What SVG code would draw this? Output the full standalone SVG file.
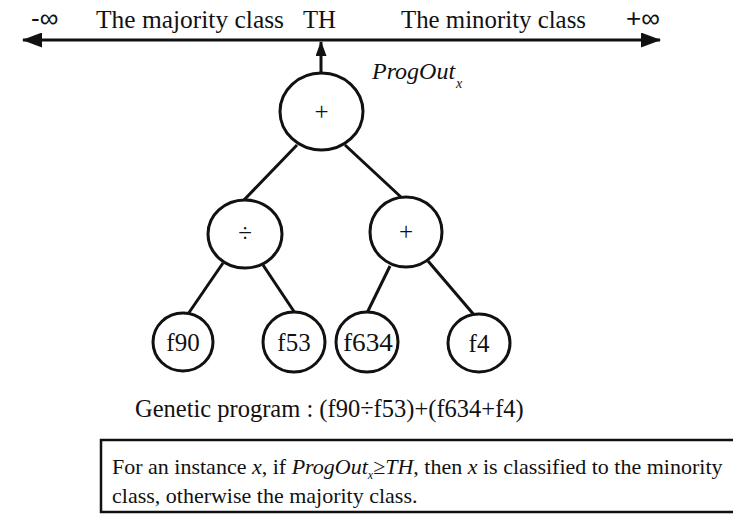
<svg xmlns="http://www.w3.org/2000/svg" width="733" height="516" viewBox="0 0 733 516">
  <style>
    .serif { font-family: "Liberation Serif", "Times New Roman", serif; fill: #111; }
    .sans { font-family: "Liberation Sans", Arial, sans-serif; fill: #111; }
    .node ellipse { fill: #fff; stroke: #111; stroke-width: 3; }
    .node text { font-family: "Liberation Serif", "Times New Roman", serif; font-size: 25px; text-anchor: middle; fill: #111; }
    .edge { stroke: #111; stroke-width: 3; fill: none; }
  </style>
  <defs>
    <marker id="head" viewBox="0 0 20 15" refX="19" refY="7.5" markerWidth="20" markerHeight="15" markerUnits="userSpaceOnUse" orient="auto-start-reverse">
      <path d="M0,0 L20,7.5 L0,15 Z" fill="#111"/>
    </marker>
    <marker id="headUp" viewBox="0 0 15 11" refX="14" refY="5.5" markerWidth="15" markerHeight="11" markerUnits="userSpaceOnUse" orient="auto">
      <path d="M0,0 L15,5.5 L0,11 Z" fill="#111"/>
    </marker>
  </defs>

  <rect width="733" height="516" fill="#fff"/>

  <!-- number line with class regions -->
  <g id="axis">
    <line class="edge" x1="23" y1="40" x2="660" y2="40" marker-start="url(#head)" marker-end="url(#head)" stroke-width="2.5"/>
    <text class="sans" x="31" y="27" font-size="26">-∞</text>
    <text class="serif" x="96" y="28" font-size="25" textLength="188" lengthAdjust="spacingAndGlyphs">The majority class</text>
    <text class="serif" x="303" y="28" font-size="25" textLength="33" lengthAdjust="spacingAndGlyphs">TH</text>
    <text class="serif" x="401" y="28" font-size="25" textLength="185" lengthAdjust="spacingAndGlyphs">The minority class</text>
    <text class="sans" x="626" y="27" font-size="26">+∞</text>
  </g>

  <!-- connectors -->
  <g id="connectors">
    <line class="edge" x1="321" y1="73" x2="321" y2="42" marker-end="url(#headUp)"/>
    <line class="edge" x1="297" y1="145" x2="243" y2="201"/>
    <line class="edge" x1="345" y1="145" x2="402" y2="198"/>
    <line class="edge" x1="223" y1="263" x2="188" y2="314"/>
    <line class="edge" x1="263" y1="265" x2="295" y2="313"/>
    <line class="edge" x1="390" y1="266" x2="367" y2="313"/>
    <line class="edge" x1="428" y1="261" x2="475" y2="316"/>
  </g>

  <text class="serif" x="372" y="79" font-size="24" font-style="italic">ProgOut</text>
  <text class="serif" x="456" y="88" font-size="14" font-style="italic">x</text>

  <g id="root" class="node">
    <ellipse cx="321.5" cy="111.5" rx="41.5" ry="38.5"/>
    <text x="321.5" y="120">+</text>
  </g>
  <g id="div" class="node">
    <ellipse cx="245" cy="234" rx="37" ry="34"/>
    <text x="245" y="242">÷</text>
  </g>
  <g id="plus" class="node">
    <ellipse cx="406" cy="232" rx="36" ry="35"/>
    <text x="406" y="240">+</text>
  </g>
  <g id="f90" class="node">
    <ellipse cx="183" cy="342" rx="30" ry="29"/>
    <text x="183" y="351">f90</text>
  </g>
  <g id="f53" class="node">
    <ellipse cx="294" cy="342" rx="31" ry="30"/>
    <text x="294" y="351">f53</text>
  </g>
  <g id="f634" class="node">
    <ellipse cx="367" cy="342" rx="31" ry="30"/>
    <text x="368" y="351" textLength="50" lengthAdjust="spacingAndGlyphs">f634</text>
  </g>
  <g id="f4" class="node">
    <ellipse cx="479" cy="343" rx="31" ry="29"/>
    <text x="479" y="352">f4</text>
  </g>

  <text class="serif" x="135" y="417" font-size="24.5">Genetic program : (f90÷f53)+(f634+f4)</text>

  <!-- classification rule box -->
  <g id="rule">
    <rect x="101" y="440" width="660" height="72" fill="none" stroke="#111" stroke-width="2.5"/>
    <text class="serif" x="112" y="474" font-size="22">For an instance <tspan font-style="italic">x</tspan>, if <tspan font-style="italic">ProgOut</tspan><tspan font-style="italic" font-size="12" dy="5">x</tspan><tspan dy="-5">≥</tspan><tspan font-style="italic">TH</tspan>, then <tspan font-style="italic">x</tspan> is classified to the minority</text>
    <text class="serif" x="112" y="503" font-size="22">class, otherwise the majority class.</text>
  </g>
</svg>
